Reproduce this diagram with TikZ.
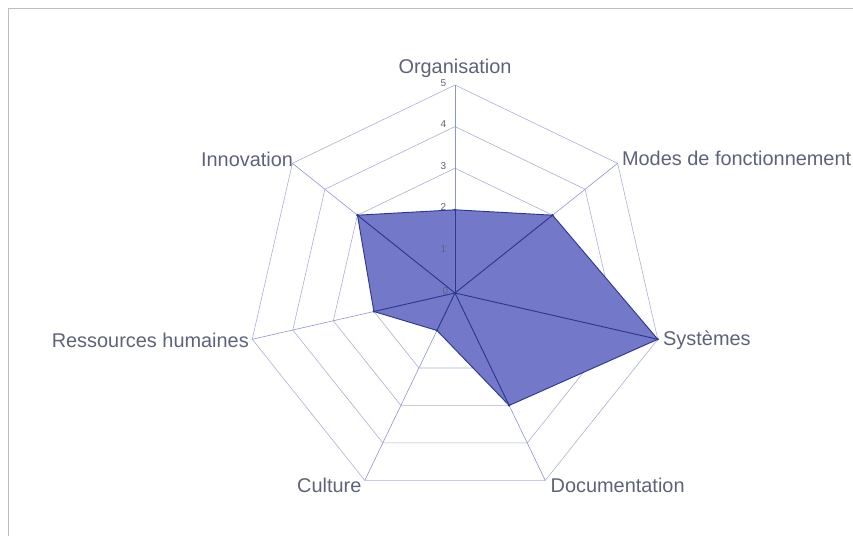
\documentclass[tikz,border=0pt]{standalone}
\usepackage{fontspec}
\setmainfont{Liberation Sans}
\usetikzlibrary{calc}
\definecolor{gridc}{HTML}{ABAFD2}
\definecolor{spokec}{HTML}{8C94CF}
\definecolor{fillc}{HTML}{7379C8}
\definecolor{datac}{HTML}{2C3890}
\definecolor{labelc}{HTML}{5E6278}
\definecolor{framec}{HTML}{B8BCC8}
\begin{document}
\begin{tikzpicture}[x=0.03cm,y=-0.03cm,
  gridline/.style={draw=gridc, line width=0.5pt},
  spoke/.style={draw=spokec, line width=0.5pt},
  dataline/.style={draw=datac, line width=0.8pt},
  lbl/.style={font=\fontsize{17}{20}\selectfont, text=labelc, inner sep=1pt},
  ticklbl/.style={font=\fontsize{8.5}{9}\selectfont, text=labelc, inner sep=0.5pt, anchor=south east},
  dot/.style={circle, fill=datac, inner sep=0pt, minimum size=2.2pt}]
\useasboundingbox (0,0) rectangle (853,540);
\draw[framec, line width=0.6pt] (8,536) -- (8,8) -- (853,8);
\coordinate (c) at (455,293);
\foreach \i/\nm in {0/org,1/mod,2/sys,3/doc,4/cul,5/rh,6/inn}{
  \pgfmathsetmacro\ang{90-\i*360/7}
  \foreach \r in {1,...,5}{
    \coordinate (\nm\r) at ({455+41.6*\r*cos(\ang)},{293-41.6*\r*sin(\ang)});
  }
}
% grid heptagons
\foreach \r in {1,...,5}{
  \draw[gridline] (org\r) -- (mod\r) -- (sys\r) -- (doc\r) -- (cul\r) -- (rh\r) -- (inn\r) -- cycle;
}
% spokes
\foreach \nm in {org,mod,sys,doc,cul,rh,inn}{
  \draw[spoke] (c) -- (\nm5);
}
% data polygon
\filldraw[fill=fillc, dataline] (org2) -- (mod3) -- (sys5) -- (doc3) -- (cul1) -- (rh2) -- (inn3) -- cycle;
\foreach \p in {org2,mod3,sys5,doc3,cul1,rh2,inn3}{
  \draw[dataline] (c) -- (\p);
  \node[dot] at (\p) {};
}
% tick labels
\node[ticklbl] (t0) at ($(c)+(-6,2)$) {0};
\foreach \r in {1,...,5}{
  \node[ticklbl] (t\r) at ($(org\r)+(-8,2)$) {\r};
}
% axis labels
\node[lbl, anchor=south] (lorg) at ($(org5)+(0,-6)$) {Organisation};
\node[lbl, anchor=west] (lmod) at ($(mod5)+(3,-5)$) {Modes de fonctionnement};
\node[lbl, anchor=west] (lsys) at ($(sys5)+(4,1)$) {Systèmes};
\node[lbl, anchor=west] (ldoc) at ($(doc5)+(4,5)$) {Documentation};
\node[lbl, anchor=east] (lcul) at ($(cul5)+(-2,5)$) {Culture};
\node[lbl, anchor=east] (lrh) at ($(rh5)+(-2,1)$) {Ressources humaines};
\node[lbl, anchor=east] (linn) at ($(inn5)+(2,-4)$) {Innovation};
\end{tikzpicture}
\end{document}
